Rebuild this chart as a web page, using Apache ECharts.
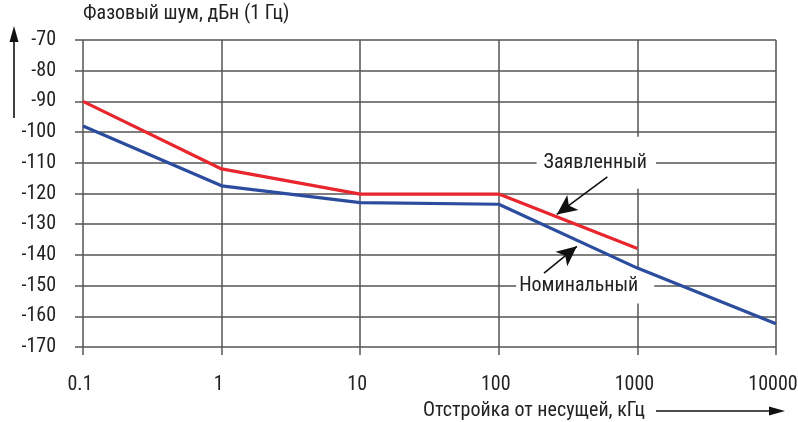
<!DOCTYPE html>
<html>
<head>
<meta charset="utf-8">
<script src="https://cdn.jsdelivr.net/npm/echarts@6/dist/echarts.min.js"></script>
<style>
  html, body { margin: 0; padding: 0; background: #fff; }
  #main { width: 798px; height: 422px; }
</style>
</head>
<body>
<div id="main"></div>
<script>
// offsets, kHz (log axis)
var offsets = [0.1, 1, 10, 100, 1000, 10000];
// declared phase noise, dBc/Hz (no value at 10000)
var declared = [-90, -112, -120.2, -120.2, -137.9];
// nominal phase noise, dBc/Hz
var nominal = [-98, -117.5, -123, -123.5, -144.3, -162.4];
var yMin = -170, yMax = -70, yStep = 10;

var yTitle = 'Фазовый шум, дБн (1 Гц)';
var xTitle = 'Отстройка от несущей, кГц';
var labelDeclared = 'Заявленный';
var labelNominal = 'Номинальный';

// annotation anchors in data coords [offset, dB]
var declaredTextAt = [505, -110];
var nominalTextAt = [420, -150];
var declaredArrow = [[607, -114.6], [262, -126.8]];
var nominalArrow = [[212, -145.9], [366, -137.2]];

var FONT = "'Roboto Condensed', sans-serif";
var GRID = '#555';

function pairs(vals) {
    var out = [];
    for (var i = 0; i < vals.length; i++) out.push([offsets[i], vals[i]]);
    return out;
}

var chart = echarts.init(document.getElementById('main'));
var option = {
    animation: false,
    grid: { left: 83, right: 22, top: 40, bottom: 75, outerBoundsMode: 'none', containLabel: false },
    xAxis: {
        type: 'log',
        logBase: 10,
        min: 0.1,
        max: 10000,
        axisLine: { show: false },
        axisTick: { show: true, inside: false, length: 8, lineStyle: { color: GRID, width: 1.5 } },
        splitLine: { show: true, lineStyle: { color: GRID, width: 1.5 } },
        axisLabel: {
            margin: 28,
            color: '#222',
            fontFamily: FONT,
            fontSize: 20,
            padding: [0, 6, 0, 0],
            formatter: function (v) { return String(Number(v.toPrecision(6))); }
        }
    },
    yAxis: {
        type: 'value',
        min: yMin,
        max: yMax,
        interval: yStep,
        name: yTitle,
        nameLocation: 'end',
        nameGap: 16,
        nameTextStyle: { align: 'left', color: '#222', fontFamily: FONT, fontSize: 20 },
        axisLine: { show: false },
        axisTick: { show: true, inside: false, length: 8, lineStyle: { color: GRID, width: 1.5 } },
        splitLine: { show: true, lineStyle: { color: GRID, width: 1.5 } },
        axisLabel: { margin: 27, color: '#222', fontFamily: FONT, fontSize: 20 }
    },
    series: [
        {
            name: labelDeclared,
            type: 'line',
            symbol: 'none',
            z: 3,
            lineStyle: { color: '#e8262d', width: 3.2 },
            data: pairs(declared)
        },
        {
            name: labelNominal,
            type: 'line',
            symbol: 'none',
            z: 3,
            lineStyle: { color: '#2c4c9e', width: 3.2 },
            data: pairs(nominal),
            markLine: {
                silent: true,
                symbol: ['none', 'arrow'],
                symbolSize: [14, 20],
                label: { show: false },
                lineStyle: { color: '#111', width: 1.6, type: 'solid' },
                data: [
                    [{ coord: declaredArrow[0] }, { coord: declaredArrow[1] }],
                    [{ coord: nominalArrow[0] }, { coord: nominalArrow[1] }]
                ]
            }
        }
    ]
};
chart.setOption(option);

// annotations and axis arrows
var pD = chart.convertToPixel({ gridIndex: 0 }, declaredTextAt);
var pN = chart.convertToPixel({ gridIndex: 0 }, nominalTextAt);
var TXT = '20px ' + FONT;
chart.setOption({
    graphic: [
        {
            type: 'text', z: 1, x: pD[0], y: pD[1],
            style: {
                text: labelDeclared, fill: '#222', font: TXT,
                align: 'center', verticalAlign: 'middle',
                backgroundColor: '#fff', padding: [16, 9, 16, 7]
            }
        },
        {
            type: 'text', z: 1, x: pN[0], y: pN[1],
            style: {
                text: labelNominal, fill: '#222', font: TXT,
                align: 'center', verticalAlign: 'middle',
                backgroundColor: '#fff', padding: [8, 16, 8, 3]
            }
        },
        {
            type: 'text', x: 645, y: 411,
            style: { text: xTitle, fill: '#222', font: TXT, align: 'right', verticalAlign: 'middle' }
        },
        { type: 'line', shape: { x1: 656, y1: 411, x2: 775, y2: 411 }, style: { stroke: '#111', lineWidth: 1.6 } },
        { type: 'polygon', shape: { points: [[785, 411], [769, 406.5], [769, 415.5]] }, style: { fill: '#111' } },
        { type: 'line', shape: { x1: 14, y1: 118, x2: 14, y2: 38 }, style: { stroke: '#111', lineWidth: 1.6 } },
        { type: 'polygon', shape: { points: [[14, 26], [9.5, 42], [18.5, 42]] }, style: { fill: '#111' } }
    ]
});
</script>
</body>
</html>
